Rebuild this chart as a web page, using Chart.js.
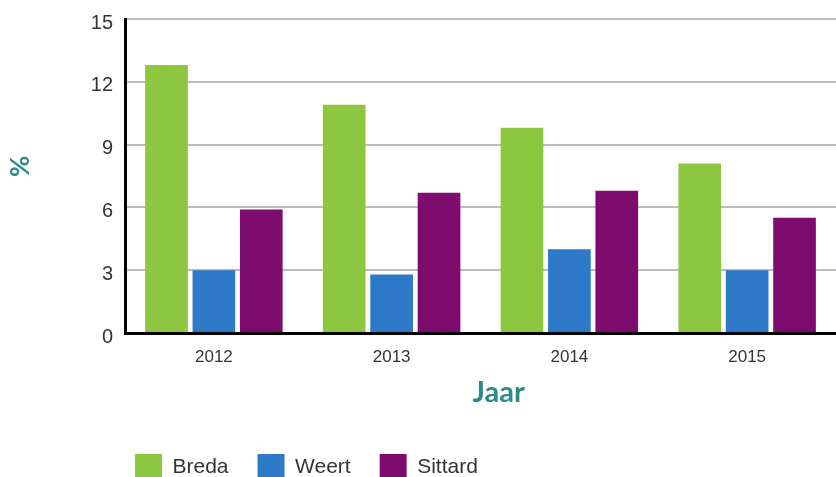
<!DOCTYPE html>
<html>
<head>
<meta charset="utf-8">
<script src="https://cdn.jsdelivr.net/npm/chart.js@4/dist/chart.umd.min.js"></script>
<style>
  html, body { margin: 0; padding: 0; background: #fff; }
  #wrap { width: 836px; height: 477px; }
</style>
</head>
<body>
<div id="wrap"><canvas id="rate-chart"></canvas></div>
<script>
const years = ["2012", "2013", "2014", "2015"];
const breda = [12.8, 10.9, 9.8, 8.1];
const weert = [3.0, 2.8, 4.0, 3.0];
const sittard = [5.9, 6.7, 6.8, 5.5];
const yTicks = [0, 3, 6, 9, 12, 15];

const teal = "#2b8a8a";
const tickFont = "'Liberation Sans', Arial, sans-serif";
const titleFont = "Lato, 'Open Sans', sans-serif";

// move the legend to where the original has it
const legendShift = {
    id: "legendShift",
    afterLayout(chart) {
        const lg = chart.legend;
        if (!lg) return;
        lg.left = 135 - lg.options.labels.padding;
        lg.top = 454 - lg.options.labels.padding;
    },
};

const ctx = document.getElementById("rate-chart");

new Chart(ctx, {
    type: "bar",
    data: {
        labels: years,
        datasets: [
            { label: "Breda", data: breda, backgroundColor: "#8dc63f" },
            { label: "Weert", data: weert, backgroundColor: "#2e78c8" },
            { label: "Sittard", data: sittard, backgroundColor: "#7d0c6e" },
        ],
    },
    options: {
        responsive: true,
        maintainAspectRatio: false,
        animation: false,
        datasets: {
            bar: { categoryPercentage: 0.8, barPercentage: 0.9 },
        },
        layout: { padding: { top: 19, right: 0, bottom: 0, left: 0 } },
        plugins: {
            tooltip: { enabled: false },
            legend: {
                display: true,
                position: "bottom",
                align: "start",
                labels: {
                    boxWidth: 27,
                    boxHeight: 27,
                    padding: 29,
                    color: "#333",
                    font: { family: tickFont, size: 21 },
                },
            },
        },
        scales: {
            x: {
                grid: { display: false, drawTicks: false },
                border: { display: true, color: "#000", width: 3 },
                ticks: {
                    color: "#333",
                    padding: 14,
                    font: { family: tickFont, size: 17 },
                },
                title: {
                    display: true,
                    text: "\u2003\u2002Jaar",
                    color: teal,
                    font: { family: titleFont, size: 29, weight: "bold" },
                    padding: { top: 0, bottom: 1 },
                },
                afterFit: (scale) => { scale.height = 78; },
            },
            y: {
                min: 0,
                max: 15,
                afterBuildTicks: (scale) => {
                    scale.ticks = yTicks.map((v) => ({ value: v }));
                },
                grid: { color: "#bbb", lineWidth: 2, drawTicks: false },
                border: { display: true, color: "#000", width: 3 },
                ticks: {
                    color: "#333",
                    padding: 12,
                    labelOffset: 4,
                    font: { family: tickFont, size: 20 },
                },
                title: {
                    display: true,
                    text: "\u2003%",
                    color: teal,
                    font: { family: titleFont, size: 26, weight: "bold" },
                    padding: { top: 5, bottom: 0 },
                },
                afterFit: (scale) => {
                    scale.width = 125;
                    scale.paddingTop = 0;
                    scale.paddingBottom = 0;
                },
            },
        },
    },
    plugins: [legendShift],
});
</script>
</body>
</html>
